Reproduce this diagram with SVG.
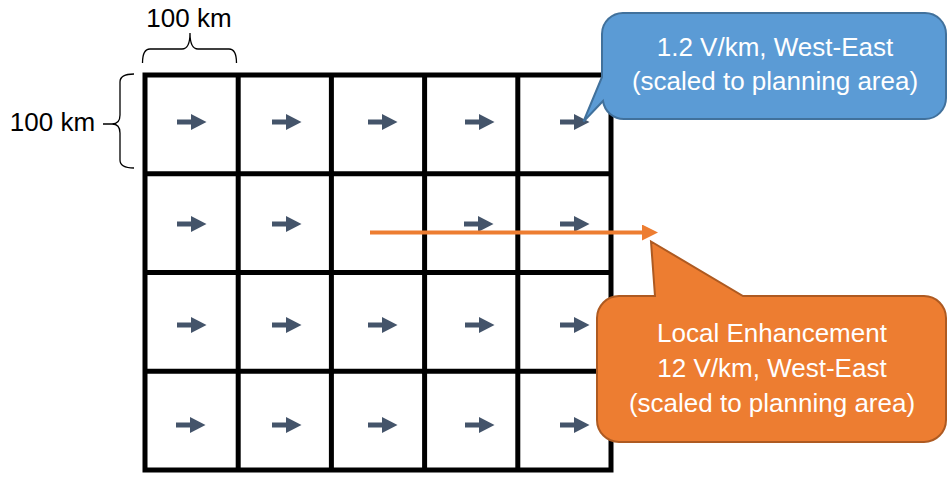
<svg xmlns="http://www.w3.org/2000/svg" xmlns:xlink="http://www.w3.org/1999/xlink" width="948" height="477" viewBox="0 0 948 477">
<style>
text{font-family:"Liberation Sans",Arial,sans-serif;font-size:26px;text-anchor:middle}
.lbl{fill:#000}
.wt{fill:#fff}
.grid{fill:none;stroke:#000;stroke-width:5}
.brace{fill:none;stroke:#000;stroke-width:1.3}
.fa{fill:#44546A}
</style>
<defs>
<path id="ar" d="M0,-2.5 H14 V-8 L29.5,0 L14,8 V2.5 H0 Z"/>
<marker id="oh" markerWidth="4" markerHeight="4" refX="0" refY="2" orient="auto" markerUnits="strokeWidth"><path d="M0,0 L4,2 L0,4 Z" fill="#ED7D31"/></marker>
</defs>
<g id="dimensions">
<path class="brace" d="M142.5,63 Q142.5,49 150,49 H182 Q190,49 190,33 Q190,49 198,49 H229 Q236.5,49 236.5,63"/>
<text class="lbl" x="189" y="27">100 km</text>
<path class="brace" d="M134,74 Q120,74 120,82 V115 Q120,124 112,124 H103 M112,124 Q120,124 120,133 V160 Q120,168 134,168"/>
<text class="lbl" x="52.5" y="131">100 km</text>
</g>
<g id="grid">
<rect class="grid" x="145" y="75" width="466" height="395"/>
<path class="grid" d="M238.2,75 V470 M331.4,75 V470 M424.6,75 V470 M517.8,75 V470 M145,173.75 H611 M145,272.5 H611 M145,371.25 H611"/>
</g>
<g id="field-arrows" class="fa">
<use xlink:href="#ar" x="177" y="122"/><use xlink:href="#ar" x="272" y="122"/><use xlink:href="#ar" x="368" y="122"/><use xlink:href="#ar" x="465" y="122"/><use xlink:href="#ar" x="560" y="122"/>
<use xlink:href="#ar" x="177" y="224"/><use xlink:href="#ar" x="272" y="224"/><use xlink:href="#ar" x="464" y="224"/><use xlink:href="#ar" x="560" y="224"/>
<use xlink:href="#ar" x="177" y="325"/><use xlink:href="#ar" x="272" y="325"/><use xlink:href="#ar" x="368" y="325"/><use xlink:href="#ar" x="465" y="325"/><use xlink:href="#ar" x="560" y="325"/>
<use xlink:href="#ar" x="176" y="425"/><use xlink:href="#ar" x="272" y="425"/><use xlink:href="#ar" x="368" y="425"/><use xlink:href="#ar" x="465" y="425"/><use xlink:href="#ar" x="560" y="425"/>
</g>
<g id="connectors">
<line x1="370" y1="232.5" x2="642" y2="232.5" stroke="#ED7D31" stroke-width="4" marker-end="url(#oh)"/>
</g>
<g id="callout-uniform">
<path d="M624,13 H925 A21,21 0 0 1 946,34 V98 A21,21 0 0 1 925,119 H624 A21,21 0 0 1 603,101 L583.5,121.5 L602,77 V34 A21,21 0 0 1 624,13 Z" fill="#5B9BD5" stroke="#41719C" stroke-width="2"/>
<text class="wt" x="775" y="56">1.2 V/km, West-East</text>
<text class="wt" x="775" y="90">(scaled to planning area)</text>
</g>
<g id="callout-local">
<path d="M619,296 H655 L651,241.5 L743,296 H924 A22,22 0 0 1 946,318 V420 A22,22 0 0 1 924,442 H619 A22,22 0 0 1 597,420 V318 A22,22 0 0 1 619,296 Z" fill="#ED7D31" stroke="#AE5A21" stroke-width="2"/>
<text class="wt" x="772" y="342">Local Enhancement</text>
<text class="wt" x="772" y="377">12 V/km, West-East</text>
<text class="wt" x="772" y="412">(scaled to planning area)</text>
</g>
</svg>
